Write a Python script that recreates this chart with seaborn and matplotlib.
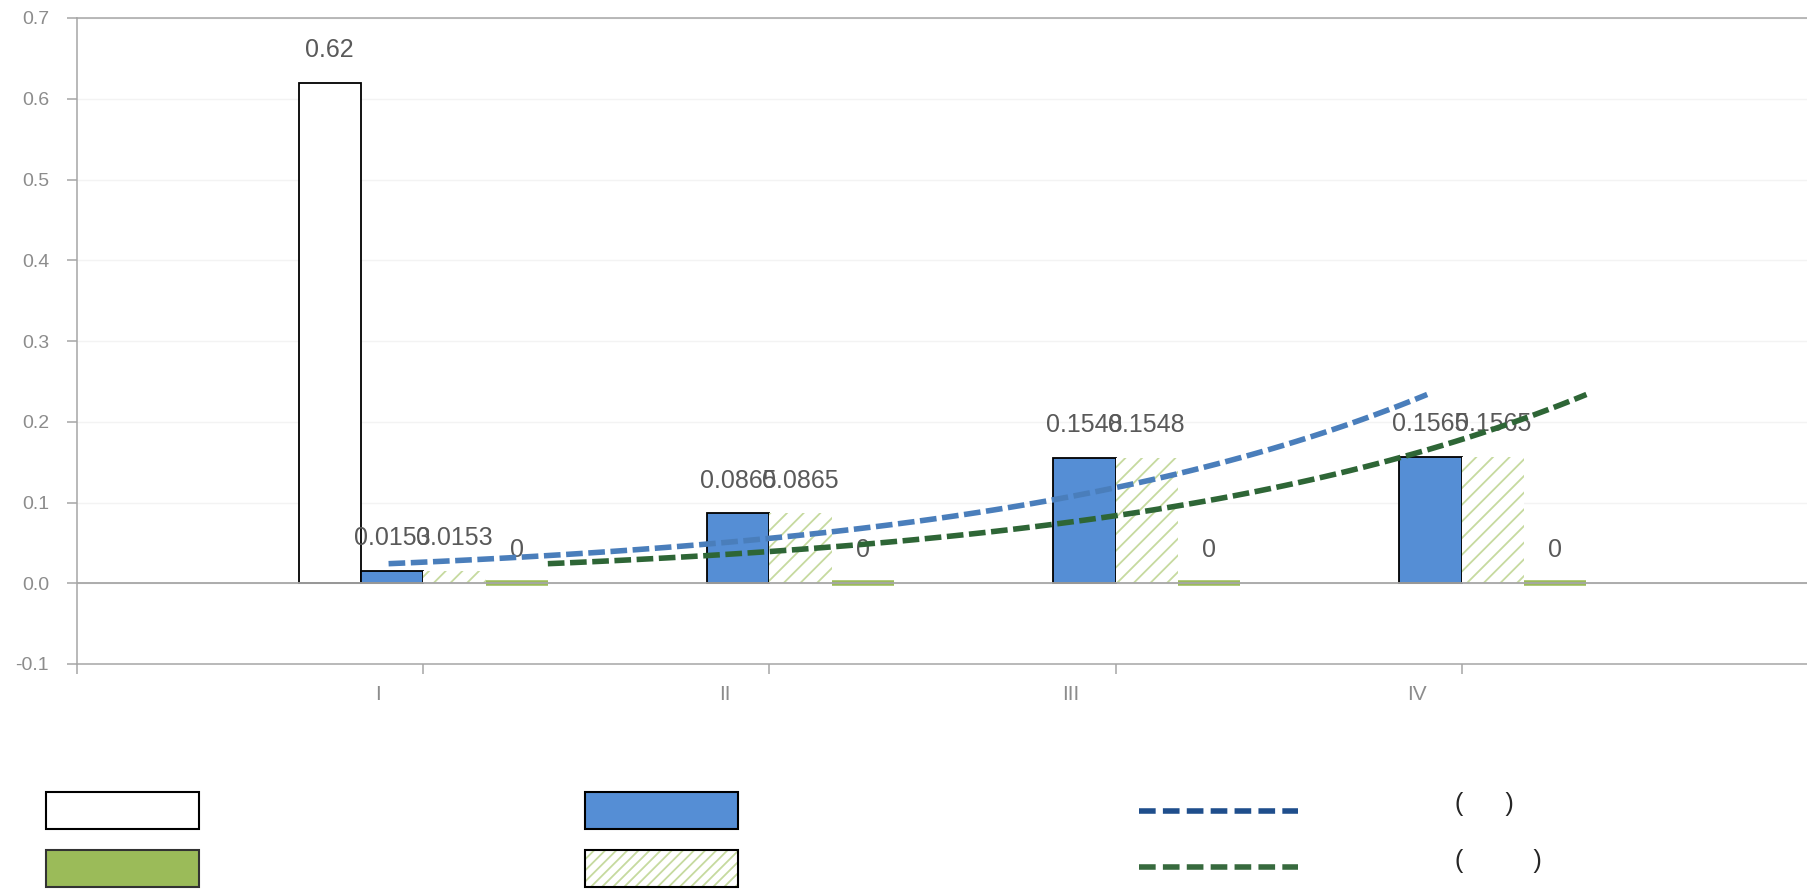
import numpy as np
import pandas as pd
import seaborn as sns
import matplotlib.pyplot as plt
import matplotlib.patches as mpatches
from matplotlib.lines import Line2D
from matplotlib.ticker import FormatStrFormatter

# data
groups = ['I', 'II', 'III', 'IV']
series = ['s1', 's2', 's3', 's4']
white_vals = [0.62, np.nan, np.nan, np.nan]
blue_vals = [0.0153, 0.0865, 0.1548, 0.1565]
hatch_vals = [0.0153, 0.0865, 0.1548, 0.1565]
green_vals = [0, 0, 0, 0]
yticks = [-0.1, 0.0, 0.1, 0.2, 0.3, 0.4, 0.5, 0.6, 0.7]
trend_labels = ['(      )', '(          )']

df = pd.DataFrame({
    'group': groups * 4,
    'series': np.repeat(series, 4),
    'value': white_vals + blue_vals + hatch_vals + green_vals,
}).dropna()

sns.set_style('white')
plt.rcParams['font.family'] = ['Liberation Sans', 'DejaVu Sans']
plt.rcParams['hatch.linewidth'] = 1.3

gray = '#a6a6a6'
txt_gray = '#8c8c8c'
blue = '#558ED5'
green = '#9BBB59'
hatch_green = '#c6da9f'

fig = plt.figure(figsize=(18.08, 8.92), dpi=100)
ax = fig.add_axes([77 / 1808, 1 - 664 / 892, 1 - 77 / 1808, (664 - 18) / 892])

sns.barplot(data=df, x='group', y='value', hue='series', order=groups, hue_order=series,
            palette=['white', blue, 'white', green], saturation=1, width=0.72,
            errorbar=None, legend=False, ax=ax, zorder=2)

c_white, c_blue, c_hatch, c_green = ax.containers[:4]
for p in c_white:
    p.set_edgecolor('black'); p.set_linewidth(1.3)
for p in c_blue:
    p.set_edgecolor('black'); p.set_linewidth(1.3)
for p in c_hatch:
    p.set_facecolor('white'); p.set_edgecolor(hatch_green); p.set_hatch('//'); p.set_linewidth(0)
for p in c_green:
    p.set_edgecolor(green); p.set_linewidth(4)

for c in [c_white, c_blue, c_hatch, c_green]:
    ax.bar_label(c, fmt='{:g}', padding=15, fontsize=18, color='#595959')

# exponential trendlines (Excel style fit)
t = np.arange(1, 5)
tt = np.linspace(1, 4, 80)
b1, a1 = np.polyfit(t, np.log(blue_vals), 1)
b2, a2 = np.polyfit(t, np.log(hatch_vals), 1)
sns.lineplot(x=tt - 1 - 0.1, y=np.exp(a1 + b1 * tt), ax=ax, color='#4a7ebb',
             linewidth=4, linestyle=(0, (3, 1)), zorder=4)
sns.lineplot(x=tt - 1 + 0.36, y=np.exp(a2 + b2 * tt), ax=ax, color='#2e6636',
             linewidth=4, linestyle=(0, (3, 1)), zorder=4)

ax.axhline(0, color=gray, lw=1.3, zorder=2.5)

ax.set_ylim(-0.1, 0.7)
ax.set_xlim(-1, 4)
ax.set_yticks(yticks)
ax.yaxis.set_major_formatter(FormatStrFormatter('%.1f'))
ax.set_xticks(range(-1, 5), labels=[''] * 6)
ax.set_xticks(np.arange(4) - 0.13, labels=groups, minor=True)
ax.set_xlabel('')
ax.set_ylabel('')
ax.yaxis.grid(True, color='#f3f3f3', lw=1)
ax.set_axisbelow(True)

ax.tick_params(axis='y', length=7, width=1.1, color=gray, pad=13, labelsize=14, labelcolor=txt_gray, left=True)
ax.tick_params(axis='x', which='major', length=7, width=1.1, color=gray, bottom=True)
ax.tick_params(axis='x', which='minor', length=0, pad=15, labelsize=15, labelcolor=txt_gray)

for s in ['left', 'bottom', 'top']:
    ax.spines[s].set_color(gray)
    ax.spines[s].set_linewidth(1.1)
ax.spines['right'].set_visible(False)

# legends (three columns)
h1 = [mpatches.Patch(facecolor='white', edgecolor='black', lw=1.5),
      mpatches.Patch(facecolor=green, edgecolor='#333333', lw=1.5)]
h2 = [mpatches.Patch(facecolor=blue, edgecolor='black', lw=1.5),
      (mpatches.Patch(facecolor='white', edgecolor=hatch_green, hatch='///', lw=0),
       mpatches.Patch(facecolor='none', edgecolor='black', lw=1.5))]
h3 = [Line2D([0], [0], color='#1f4e8c', lw=4, linestyle=(0, (3, 1.3))),
      Line2D([0], [0], color='#376a3e', lw=4, linestyle=(0, (3, 1.3)))]

leg_kw = dict(loc='upper left', frameon=False, fontsize=14, handleheight=2.55,
              borderpad=0, borderaxespad=0, handletextpad=0.5)
fig.legend(h1, [' ', ' '], bbox_to_anchor=(46 / 1808, 1 - 792 / 892),
           handlelength=7.87, labelspacing=1.08, **leg_kw)
fig.legend(h2, [' ', ' '], bbox_to_anchor=(585 / 1808, 1 - 792 / 892),
           handlelength=7.87, labelspacing=1.08, **leg_kw)
fig.legend(h3, [' ', ' '], bbox_to_anchor=(1139 / 1808, 1 - 798.8 / 892),
           handlelength=8.18, labelspacing=0.98, **leg_kw)

for lab, yc in zip(trend_labels, [804, 861]):
    fig.text(1455 / 1808, 1 - yc / 892, lab, fontsize=18, va='center', ha='left', color='#262626')

fig.savefig('out.png', dpi=100)
